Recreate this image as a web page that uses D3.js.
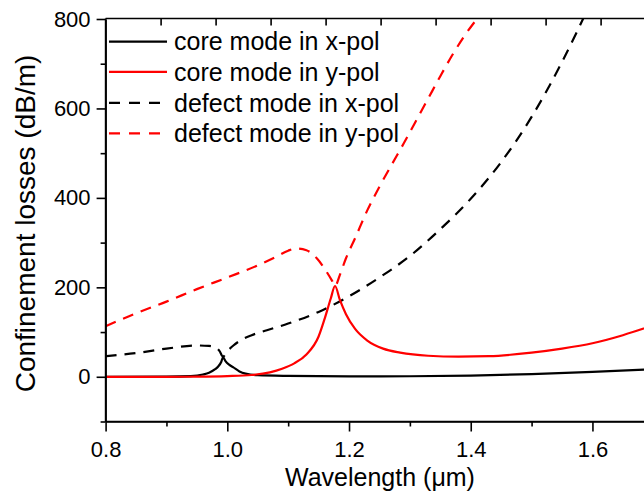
<!DOCTYPE html>
<html>
<head>
<meta charset="utf-8">
<script src="https://cdn.jsdelivr.net/npm/d3@7"></script>
<style>
  html, body { margin: 0; padding: 0; background: #fff; }
  svg { display: block; }
  text { font-family: Arial, "Liberation Sans", sans-serif; fill: #000; }
</style>
</head>
<body>
<svg id="chart" width="644" height="492"></svg>
<script>
// ---- data ----
const coreXLambda = [0.80,0.90,0.94,0.96,0.97,0.98,0.985,0.99,0.993,0.997,1.003,1.01,1.02,1.03,1.05,1.10,1.20,1.30,1.40,1.50,1.60,1.70];
const coreXLoss   = [0,0.3,1.5,5,9,17,23,33,44,35,27,21,12,7,3.5,2,1,1.2,2.5,6,11,17];

const coreYLambda = [0.80,0.90,0.95,1.00,1.04,1.07,1.09,1.11,1.13,1.15,1.16,1.17,1.177,1.185,1.195,1.21,1.23,1.256,1.284,1.33,1.38,1.43,1.50,1.55,1.60,1.65,1.70];
const coreYLoss   = [0,0,0.3,1.5,4,10,18,30,50,90,130,175,203,172,140,107,81,63,54,47,45,46,54,63,75,93,115];

const defectXLambda = [0.80,0.85,0.90,0.95,0.97,0.98,0.987,0.993,1.000,1.010,1.020,1.040,1.065,1.10,1.15,1.20,1.25,1.30,1.35,1.40,1.45,1.50,1.55,1.60];
const defectXLoss   = [46,53,63,70,69,66,58,45,57,70,80,93,104,119,145,180,222,270,330,398,480,581,704,845];

const defectYLambda = [0.80,0.85,0.90,0.95,1.00,1.05,1.08,1.10,1.113,1.13,1.147,1.163,1.172,1.177,1.185,1.195,1.21,1.23,1.25,1.27,1.29,1.31,1.33,1.35,1.37,1.39,1.41,1.43];
const defectYLoss   = [113,142,168,196,222,249,268,282,287,283,265,235,215,203,228,265,310,372,425,474,522,572,622,672,720,763,800,835];

const seriesNames = ["core mode in x-pol","core mode in y-pol","defect mode in x-pol","defect mode in y-pol"];
const seriesColors = ["#000000","#ff0000","#000000","#ff0000"];
const seriesDashed = [false,false,true,true];

const xMajorTicks = [0.8,1.0,1.2,1.4,1.6];
const xMinorTicks = [0.9,1.1,1.3,1.5,1.7];
const yMajorTicks = [0,200,400,600,800];
const yMinorTicks = [-100,100,300,500,700];
const topTicks = [1,2,3,4,5,6,7,8,9];

const xLabel = "Wavelength (\u03bcm)";
const yLabel = "Confinement losses (dB/m)";

// ---- layout ----
const L = 105.6, R = 653.3, T = 18.5, B = 421.5;
const svg = d3.select("#chart");
const x = d3.scaleLinear().domain([0.8,1.7]).range([L,R]);
const y = d3.scaleLinear().domain([-100,800]).range([B,19]);
const xTop = d3.scaleLinear().domain([0,10]).range([L, L+550]);

svg.append("defs").append("clipPath").attr("id","clip")
  .append("rect").attr("x",L).attr("y",T).attr("width",R-L).attr("height",B-T);

const series = [
  {lam: coreXLambda, val: coreXLoss},
  {lam: coreYLambda, val: coreYLoss},
  {lam: defectXLambda, val: defectXLoss},
  {lam: defectYLambda, val: defectYLoss}
];

const line = d3.line().x(d=>x(d[0])).y(d=>y(d[1])).curve(d3.curveMonotoneX);
const g = svg.append("g").attr("clip-path","url(#clip)");
[2,3,0,1].forEach(i=>{
  const s = series[i];
  const pts = s.lam.map((l,k)=>[l,s.val[k]]);
  g.append("path").datum(pts)
    .attr("d",line)
    .attr("fill","none")
    .attr("stroke",seriesColors[i])
    .attr("stroke-width",2.2)
    .attr("stroke-dasharray",seriesDashed[i] ? "11,8" : null);
});

// ---- axes ----
const axisStroke = 1.6;
const gb = svg.append("g").attr("transform",`translate(0,${B})`);
gb.call(d3.axisBottom(x).tickValues(xMajorTicks).tickFormat(d3.format(".1f")).tickSizeInner(10).tickSizeOuter(0).tickPadding(10));
gb.append("g").call(d3.axisBottom(x).tickValues(xMinorTicks).tickFormat("").tickSizeInner(5).tickSizeOuter(0));
const gl = svg.append("g").attr("transform",`translate(${L},0)`);
gl.call(d3.axisLeft(y).tickValues(yMajorTicks).tickFormat(d3.format("d")).tickSizeInner(9).tickSizeOuter(0).tickPadding(6));
gl.append("g").call(d3.axisLeft(y).tickValues(yMinorTicks).tickFormat("").tickSizeInner(5).tickSizeOuter(0));
const gt = svg.append("g").attr("transform",`translate(0,${T})`);
gt.call(d3.axisTop(xTop).tickValues(topTicks).tickFormat("").tickSizeInner(-7).tickSizeOuter(0));

svg.selectAll(".domain").attr("stroke","#000").attr("stroke-width",axisStroke);
svg.selectAll(".tick line").attr("stroke","#000").attr("stroke-width",axisStroke);
svg.selectAll(".tick text").attr("font-size",22).attr("font-family","Arial, 'Liberation Sans', sans-serif").attr("fill","#000");
gl.select(".domain").attr("d",`M0,${T}V${B}`);
gb.select(".domain").attr("d",`M${L},0H644`);
gt.select(".domain").attr("d",`M${L},0H644`);

// axis titles
svg.append("text").attr("x",380).attr("y",486).attr("text-anchor","middle")
  .attr("font-size",25).text(xLabel);
svg.append("text").attr("transform",`translate(35,223.5) rotate(-90)`).attr("text-anchor","middle")
  .attr("font-size",28).text(yLabel);

// ---- legend ----
const legendY = [41.7,71.9,102.8,133.3];
const lg = svg.append("g");
seriesNames.forEach((n,i)=>{
  lg.append("line").attr("x1",109).attr("x2",167).attr("y1",legendY[i]).attr("y2",legendY[i])
    .attr("stroke",seriesColors[i]).attr("stroke-width",2.2)
    .attr("stroke-dasharray",seriesDashed[i] ? "11,9" : null);
  lg.append("text").attr("x",174).attr("y",legendY[i]).attr("dy","0.35em")
    .attr("font-size",25).text(n);
});
</script>
</body>
</html>
